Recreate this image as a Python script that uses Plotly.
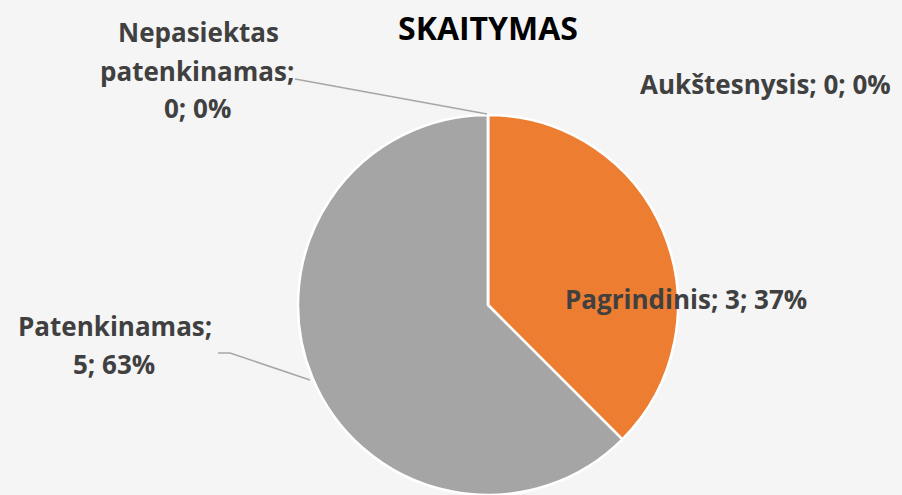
import plotly.graph_objects as go

W, H = 902, 495

# ---- data ----
categories = ["Aukštesnysis", "Pagrindinis", "Patenkinamas", "Nepasiektas patenkinamas"]
values = [0, 3, 5, 0]
pct_labels = ["0%", "37%", "63%", "0%"]
colors = ["#4472C4", "#ED7D31", "#A5A5A5", "#FFC000"]
title_text = "SKAITYMAS"


def px(x, y):
    return x / W, 1 - y / H


fig = go.Figure()
fig.add_trace(go.Pie(
    labels=categories,
    values=values,
    sort=False,
    direction="clockwise",
    rotation=0,
    marker=dict(colors=colors, line=dict(color="white", width=2.5)),
    textinfo="none",
    hoverinfo="label+value+percent",
    showlegend=False,
    domain=dict(x=[(488 - 190) / W, (488 + 190) / W], y=[0, (H - 115) / H]),
))

label_font = dict(family="Open Sans", size=26, color="#404040", weight="bold")

# label lines: (text, center-x px, baseline px)
lines = [
    (f"{categories[3].split()[0]}", 198, 41),
    (f"{categories[3].split()[1]};", 197, 80),
    (f"{values[3]}; {pct_labels[3]}", 197, 117),
    (f"{categories[0]}; {values[0]}; {pct_labels[0]}", 765, 93),
    (f"{categories[1]}; {values[1]}; {pct_labels[1]}", 686, 308),
    (f"{categories[2]};", 115, 335),
    (f"{values[2]}; {pct_labels[2]}", 114, 373),
]

annotations = []
for text, cx, base in lines:
    x, y = px(cx, base - 9)
    annotations.append(dict(
        text=text, x=x, y=y, xref="paper", yref="paper",
        xanchor="center", yanchor="middle", showarrow=False, font=label_font,
    ))

tx, ty = px(488, 38 - 11)
annotations.append(dict(
    text=title_text, x=tx, y=ty, xref="paper", yref="paper",
    xanchor="center", yanchor="middle", showarrow=False,
    font=dict(family="Open Sans", size=32, color="#000000", weight="bold"),
))

shapes = []
leader_paths = [
    [(295, 79), (487, 114)],
    [(218, 353), (230, 353), (310, 380)],
]
for pts in leader_paths:
    path = ""
    for i, (lx, ly) in enumerate(pts):
        x, y = px(lx, ly)
        path += ("M" if i == 0 else " L") + f"{x},{y}"
    shapes.append(dict(type="path", path=path, xref="paper", yref="paper",
                       line=dict(color="#A6A6A6", width=1.5)))

fig.update_layout(
    width=W, height=H,
    margin=dict(l=0, r=0, t=0, b=0),
    paper_bgcolor="#F5F5F5",
    plot_bgcolor="#F5F5F5",
    annotations=annotations,
    shapes=shapes,
)

fig.write_html(
    "out.html",
    config={"displayModeBar": False},
    post_script="document.body.style.margin='0';document.body.style.overflow='hidden';",
)
